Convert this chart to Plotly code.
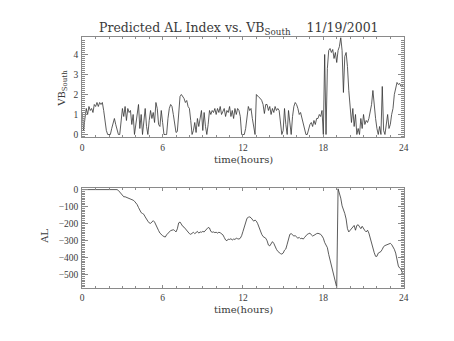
import numpy as np
import plotly.graph_objects as go

# Hours since 00 UT, sampled every 6 minutes
time_hours = np.linspace(0, 24, 241)

# Southward IMF component (VB_south), one row per hour
vb_south = [
    1.1, 0.2, 0.8, 1.3, 1.0, 1.4, 1.2, 1.3, 1.1, 1.5,
    1.4, 1.6, 1.4, 1.6, 1.5, 1.6, 1.2, 0.6, 0.2, 0.0,
    0.0, 0.0, 0.3, 0.5, 0.8, 0.5, 0.3, 0.0, 0.0, 0.7,
    1.3, 0.9, 1.4, 0.7, 1.3, 1.1, 1.2, 0.5, 1.0, 0.0,
    0.6, 1.2, 1.5, 0.3, 1.0, 0.0, 0.9, 1.3, 0.4, 0.0,
    0.7, 1.2, 0.8, 1.1, 0.6, 1.6, 1.3, 0.5, 0.4, 1.2,
    0.6, 0.0, 0.0, 0.0, 0.8, 1.3, 1.5, 1.4, 1.0, 0.5,
    0.1, 0.15, 0.9, 1.9, 2.0, 1.9, 1.8, 1.6, 1.7, 1.4,
    1.3, 0.7, 0.0, 0.2, 0.6, 0.1, 0.8, 0.4, 0.9, 1.2,
    0.2, 1.1, 0.4, 0.0, 0.5, 1.2, 1.0, 1.2, 1.1, 1.3,
    1.0, 1.3, 1.1, 1.4, 1.0, 1.2, 1.3, 0.9, 1.2, 1.1,
    1.4, 0.9, 1.2, 0.8, 1.3, 1.0, 1.3, 1.2, 0.9, 0.0,
    0.0, 0.0, 0.3, 1.0, 1.4, 1.2, 1.3, 0.8, 0.3, 0.0,
    2.0, 1.9, 1.85, 1.8, 1.7, 1.5, 1.05, 1.5, 1.5, 1.2,
    1.4, 1.0, 1.3, 1.1, 1.4, 1.2, 1.3, 1.2, 0.6, 0.0,
    0.2, 1.3, 0.5, 0.0, 1.2, 0.6, 0.0, 0.9, 1.4, 1.6,
    1.5, 1.3, 1.0, 1.1, 0.8, 0.6, 0.3, 0.0, 0.0, 0.3,
    0.5, 0.6, 0.4, 0.7, 0.5, 0.8, 0.8, 1.0, 0.9, 1.2,
    0.0, 4.0, 0.0, 3.3, 4.2, 4.3, 4.1, 4.25, 3.8, 4.1,
    3.6, 4.2, 4.4, 4.85, 4.2, 2.1, 3.9, 4.1, 3.4, 2.2,
    1.5, 0.6, 1.3, 0.4, 1.0, 0.0, 0.3, 0.0, 0.8, 0.3,
    1.0, 0.5, 0.7, 0.6, 0.8, 1.2, 1.5, 2.2, 1.4, 0.8,
    0.3, 0.0, 0.4, 0.0, 2.4, 0.2, 0.0, 0.6, 1.0, 0.3,
    0.5, 1.0, 1.3, 2.0, 2.4, 2.6, 2.5, 2.55, 2.4, 2.45,
    2.4,
]

# Predicted AL index (nT), one row per hour
al_index = [
    0, 0, 0, 0, 0, 0, 0, 0, 0, 0,
    0, 0, 0, 0, 0, 0, 0, 0, 0, 0,
    0, 0, 0, 0, 0, 0, 0, -5, -15, -25,
    -38, -42, -42, -45, -52, -55, -57, -58, -62, -68,
    -76, -88, -105, -120, -135, -140, -145, -160, -175, -185,
    -195, -198, -190, -182, -190, -210, -228, -240, -255, -265,
    -270, -275, -278, -265, -255, -245, -240, -238, -235, -240,
    -248, -230, -195, -190, -205, -215, -220, -230, -245, -250,
    -258, -262, -255, -250, -258, -250, -245, -255, -248, -250,
    -245, -248, -240, -232, -222, -225, -245, -250, -248, -252,
    -250, -255, -250, -253, -258, -265, -280, -295, -300, -290,
    -292, -288, -295, -290, -292, -285, -288, -290, -285, -270,
    -245, -215, -190, -168, -162, -160, -165, -178, -185, -178,
    -185, -200, -225, -245, -262, -275, -280, -285, -300, -325,
    -330, -315, -305, -315, -335, -350, -362, -370, -375, -378,
    -372, -355, -348, -320, -290, -262, -258, -265, -272, -270,
    -278, -285, -280, -288, -285, -290, -280, -268, -262, -258,
    -255, -265, -272, -268, -262, -258, -256, -258, -262, -272,
    -285, -310, -325, -340, -380, -410, -440, -480, -515, -545,
    -573, 5, -20, -50, -95, -115, -140, -172, -229, -248,
    -238, -225, -215, -210, -238, -210, -206, -215, -229, -215,
    -229, -240, -248, -238, -255, -286, -310, -343, -370, -391,
    -391, -372, -368, -363, -350, -334, -328, -324, -324, -320,
    -315, -322, -334, -350, -372, -420, -448, -460, -467, -487,
    -496,
]

hour_ticks = [0, 6, 12, 18, 24]

W, H = 454, 341
LINE = "#333333"
AXIS = "#8a8a8a"
TEXT = "#3a3a3a"
TICK_FONT = dict(family="Liberation Serif", size=9.5, color=TEXT)
LABEL_FONT = dict(family="DejaVu Serif", size=10, color=TEXT)


def px(x):
    return x / W


def py(y):
    return 1 - y / H


fig = go.Figure()
fig.add_trace(go.Scatter(x=time_hours, y=vb_south, mode="lines",
                         line=dict(color=LINE, width=0.8), xaxis="x", yaxis="y"))
fig.add_trace(go.Scatter(x=time_hours, y=al_index, mode="lines",
                         line=dict(color=LINE, width=0.8), xaxis="x2", yaxis="y2"))

x_common = dict(
    range=[0, 24], tickvals=hour_ticks, ticks="inside", ticklen=3, tickwidth=1,
    tickcolor=AXIS, showline=True, linecolor=AXIS, linewidth=1, mirror="allticks",
    showgrid=False, zeroline=False, tickfont=TICK_FONT, ticklabelstandoff=1,
    minor=dict(ticks="inside", ticklen=2, dtick=1, tick0=0, tickcolor=AXIS, showgrid=False),
)
y_common = dict(
    ticks="inside", ticklen=6, tickwidth=1, tickcolor=AXIS, showline=True,
    linecolor=AXIS, linewidth=1, mirror="allticks", showgrid=False, zeroline=False,
    tickfont=TICK_FONT, ticklabelstandoff=1,
)

fig.update_layout(
    width=W, height=H, margin=dict(l=0, r=0, t=0, b=0),
    paper_bgcolor="white", plot_bgcolor="white", showlegend=False,
    xaxis=dict(domain=[px(81.5), px(408)], anchor="y", **x_common),
    yaxis=dict(domain=[py(136.5), py(35)], anchor="x", range=[-0.15, 4.85],
               tick0=0, dtick=1,
               minor=dict(ticks="inside", ticklen=3, dtick=0.1, tick0=0,
                          tickcolor=AXIS, showgrid=False),
               **y_common),
    xaxis2=dict(domain=[px(81.5), px(408)], anchor="y2", **x_common),
    yaxis2=dict(domain=[py(289.3), py(188)], anchor="x2", range=[-577, 8],
                tick0=0, dtick=100,
                minor=dict(ticks="inside", ticklen=3, dtick=10, tick0=0,
                           tickcolor=AXIS, showgrid=False),
                **y_common),
)

annotations = [
    dict(text="Predicted AL Index vs. VB<sub>South</sub>\u00a0\u00a0\u00a0\u00a011/19/2001",
         x=px(241), y=py(26), font=dict(family="DejaVu Serif", size=12.5, color=TEXT)),
    dict(text="time(hours)", x=px(245), y=py(159), font=LABEL_FONT),
    dict(text="time(hours)", x=px(245), y=py(311), font=LABEL_FONT),
    dict(text="VB<sub>South</sub>", x=px(62), y=py(87), textangle=-90, font=LABEL_FONT),
    dict(text="AL", x=px(43), y=py(237), textangle=-90, font=LABEL_FONT),
]
for a in annotations:
    a.update(xref="paper", yref="paper", showarrow=False, xanchor="center", yanchor="middle")
fig.update_layout(annotations=annotations)

fig.write_html("out.html")
